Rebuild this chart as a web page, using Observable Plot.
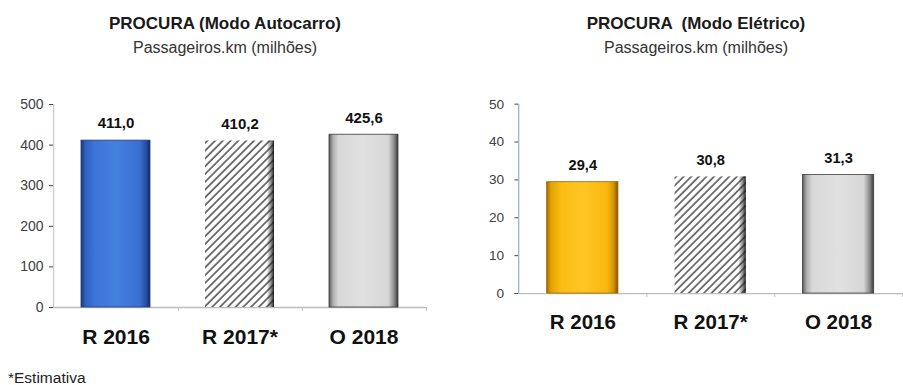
<!DOCTYPE html>
<html>
<head>
<meta charset="utf-8">
<script src="https://cdn.jsdelivr.net/npm/d3@7"></script>
<script src="https://cdn.jsdelivr.net/npm/@observablehq/plot@0.6"></script>
<style>
  html, body { margin: 0; padding: 0; background: #fff; }
  #page { position: relative; width: 903px; height: 385px; overflow: hidden; font-family: "Liberation Sans", Arial, sans-serif; color: #1a1a1a; }
  .title { position: absolute; text-align: center; font-weight: bold; font-size: 17px; white-space: pre; }
  .sub { position: absolute; text-align: center; font-size: 16px; color: #333; white-space: pre; }
  .chart { position: absolute; top: 90px; }
  #note { position: absolute; left: 8px; top: 369px; font-size: 15.5px; color: #222; }
</style>
</head>
<body>
<div id="page">
  <div class="title" style="left:0;width:450px;top:14px;">PROCURA (Modo Autocarro)</div>
  <div class="sub" style="left:0;width:450px;top:39px;">Passageiros.km (milhões)</div>
  <div class="title" style="left:470px;width:452px;top:14px;">PROCURA  (Modo Elétrico)</div>
  <div class="sub" style="left:470px;width:452px;top:39px;">Passageiros.km (milhões)</div>
  <div class="chart" id="left" style="left:0;"></div>
  <div class="chart" id="right" style="left:450px;"></div>
  <div id="note">*Estimativa</div>
</div>
<script>
// Demand in millions of passenger-km
const categories = ["R 2016", "R 2017*", "O 2018"];
const autocarro = [411.0, 410.2, 425.6];
const eletrico = [29.4, 30.8, 31.3];
const autocarroTicks = [0, 100, 200, 300, 400, 500];
const eletricoTicks = [0, 10, 20, 30, 40, 50];

const fmt = v => v.toFixed(1).replace(".", ",");

// Paint for each bar: real value (gradient), estimate (hatched), budget (grey)
function defsFor(svg, prefix, first) {
  const defs = d3.select(svg).insert("defs", ":first-child");
  const grad = (id, stops) => {
    const g = defs.append("linearGradient").attr("id", id)
      .attr("x1", "0").attr("x2", "1").attr("y1", "0").attr("y2", "0");
    stops.forEach(([o, c, a = 1]) => g.append("stop").attr("offset", o).attr("stop-color", c).attr("stop-opacity", a));
  };
  grad(prefix + "-first", first);
  grad(prefix + "-grey", [[0, "#5a5a5a"], [0.06, "#b0b0b0"], [0.14, "#d8d8d8"], [0.5, "#e0e0e0"], [0.86, "#d6d6d6"], [0.94, "#8e8e8e"], [1, "#3a3a3a"]]);
  grad(prefix + "-shade", [[0, "#000", 0], [0.9, "#000", 0], [0.95, "#333", 0.5], [1, "#111", 0.95]]);
  const p = defs.append("pattern").attr("id", prefix + "-hatch")
    .attr("patternUnits", "userSpaceOnUse").attr("width", 5.5).attr("height", 5.5)
    .attr("patternTransform", "rotate(45)");
  p.append("rect").attr("width", 5.5).attr("height", 5.5).attr("fill", "#fff");
  p.append("line").attr("x1", 1).attr("x2", 1).attr("y1", 0).attr("y2", 5.5)
    .attr("stroke", "#5e5e5e").attr("stroke-width", 1.7);
}

function chart({values, ticks, max, prefix, width, height, marginLeft, marginRight, marginBottom, tickPadding, axisColor, first, bar}) {
  const step = (width - marginLeft - marginRight) / categories.length;
  const rows = categories.map((c, i) => ({cat: c, value: values[i], i}));
  const paint = [`url(#${prefix}-first)`, `url(#${prefix}-hatch)`, `url(#${prefix}-grey)`];
  const edge = [bar, "none", "#3a3a3a"];
  const svg = Plot.plot({
    width, height,
    marginLeft, marginRight, marginTop: 14, marginBottom,
    style: {fontSize: "14px", fontFamily: "'Liberation Sans', Arial, sans-serif", color: "#404040", background: "transparent"},
    x: {domain: categories, axis: null, paddingInner: 0.44, paddingOuter: 0.22},
    y: {domain: [0, max], ticks, tickSize: 4, tickPadding, label: null, tickFormat: d => d},
    marks: [
      // value axis line
      Plot.ruleX([categories[0]], {x: d => d, y1: 0, y2: max, dx: -step / 2, stroke: axisColor, strokeWidth: 1.3}),
      // category baseline and its small ticks between bands
      Plot.ruleY([0], {stroke: "#bdbdbd", strokeWidth: 1.3}),
      Plot.ruleX(categories, {x: d => d, y1: 0, y2: 0, dx: step / 2, insetBottom: -4, stroke: "#bdbdbd"}),
      Plot.barY(rows, {x: "cat", y: "value", fill: d => paint[d.i], stroke: d => edge[d.i], strokeWidth: 0.8}),
      // dark right edge on the hatched estimate bar
      Plot.barY(rows.filter(d => d.i === 1), {x: "cat", y: "value", fill: `url(#${prefix}-shade)`}),
      Plot.text(rows, {x: "cat", y: "value", text: d => fmt(d.value), dy: -17, fontWeight: "bold", fontSize: 15, fill: "#111"}),
      Plot.text(rows, {x: "cat", y: 0, text: "cat", dy: 30, fontWeight: "bold", fontSize: 21, fill: "#111"})
    ]
  });
  defsFor(svg, prefix, first);
  return svg;
}

document.getElementById("left").append(chart({
  values: autocarro, ticks: autocarroTicks, max: 500, prefix: "bus",
  width: 450, height: 265, marginLeft: 53, marginRight: 23, marginBottom: 48, tickPadding: 6,
  axisColor: "#cfcfcf", bar: "#1c3a80",
  first: [[0, "#1a3675"], [0.06, "#2f5fc0"], [0.2, "#3d74d6"], [0.5, "#4580df"], [0.85, "#3a6fd2"], [0.94, "#2650a8"], [1, "#142a5e"]]
}));

document.getElementById("right").append(chart({
  values: eletrico, ticks: eletricoTicks, max: 50, prefix: "tram",
  width: 464, height: 265, marginLeft: 70, marginRight: 0, marginBottom: 57, tickPadding: 11,
  axisColor: "#8db3e2", bar: "#9a6200",
  first: [[0, "#a06a00"], [0.06, "#e3a300"], [0.2, "#fbbb12"], [0.5, "#ffc624"], [0.85, "#f9b710"], [0.94, "#d39400"], [1, "#7d5000"]]
}));
</script>
</body>
</html>
